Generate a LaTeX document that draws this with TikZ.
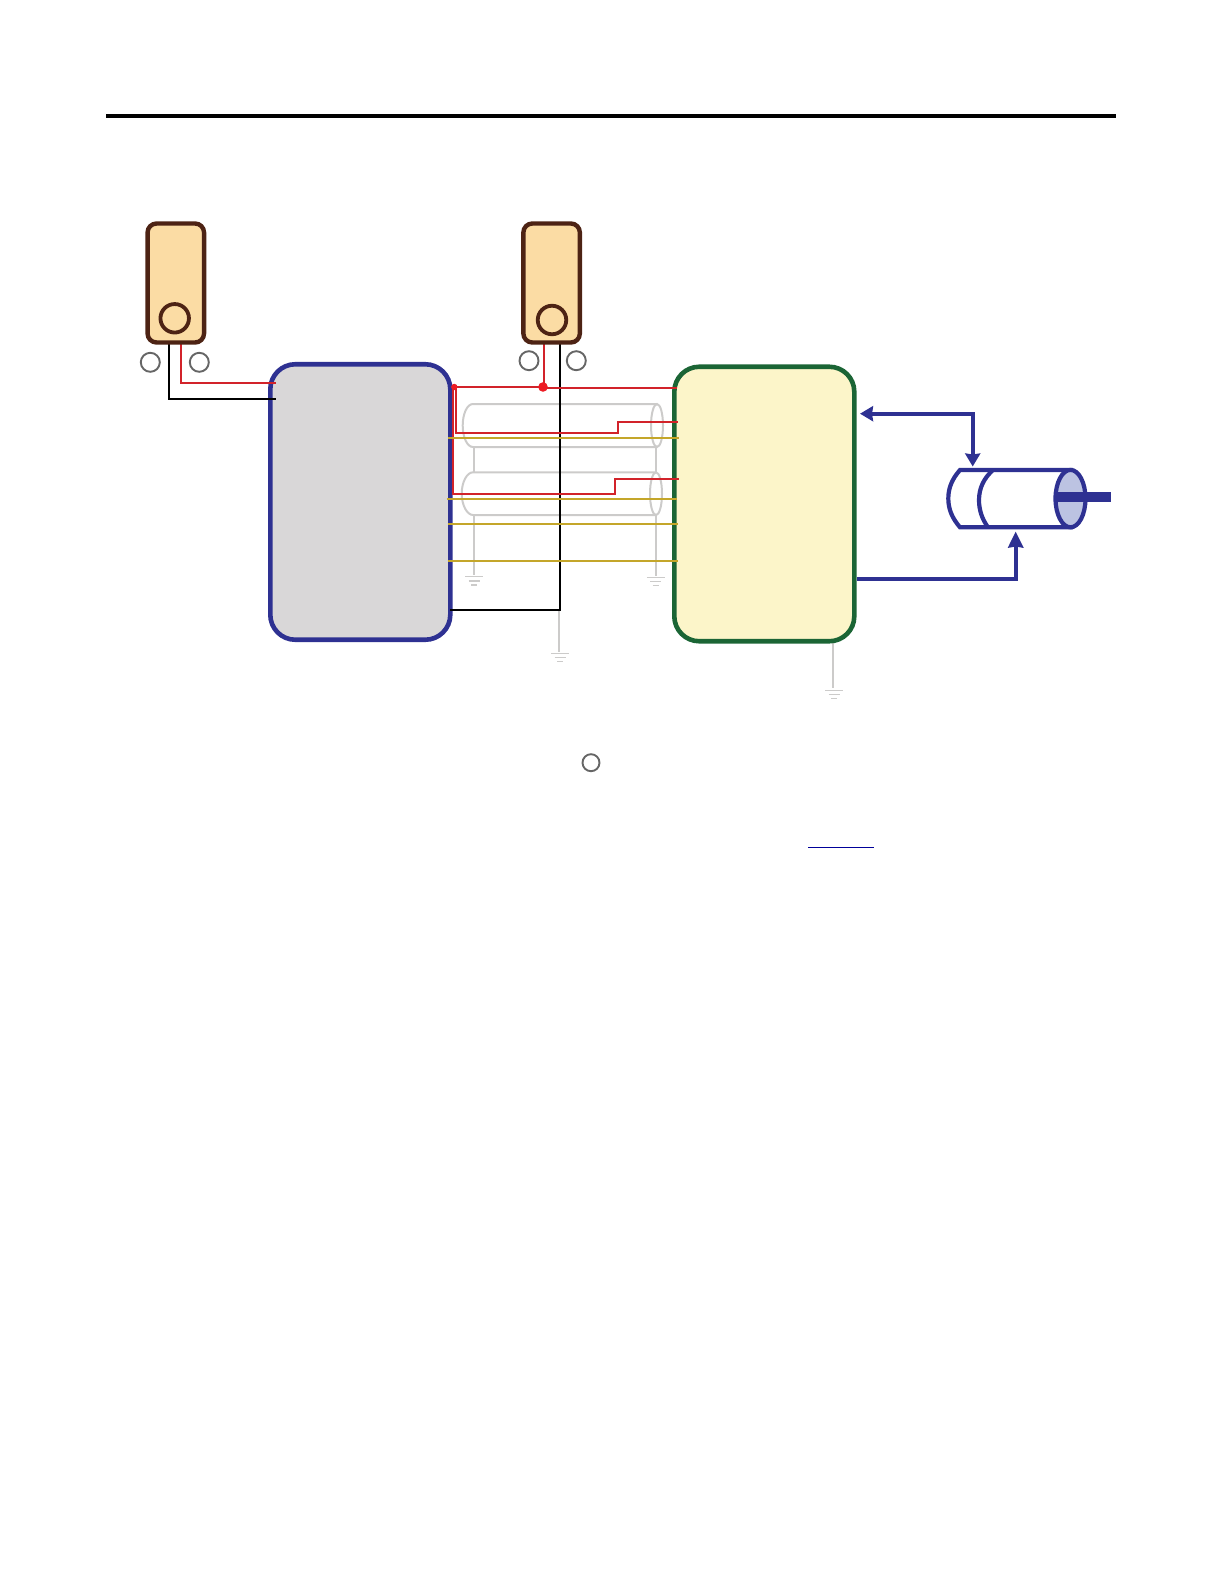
\documentclass[tikz,border=0pt]{standalone}
\usepackage{tkz-euclide}
\usetikzlibrary{arrows.meta}
\definecolor{sensorbrown}{HTML}{4D2314}
\definecolor{sensorfill}{HTML}{FBDCA4}
\definecolor{driveblue}{HTML}{2E3192}
\definecolor{drivefill}{HTML}{D9D7D8}
\definecolor{ctrlgreen}{HTML}{1B6535}
\definecolor{ctrlfill}{HTML}{FCF5C9}
\definecolor{wirered}{HTML}{D2232A}
\definecolor{dotred}{HTML}{ED1C24}
\definecolor{wireyellow}{HTML}{C4A62A}
\definecolor{shieldgrey}{HTML}{CCCBCA}
\definecolor{rodfill}{HTML}{BCC3E2}
\tikzset{>={Stealth[length=13pt,width=15pt,inset=1pt]}}
\tikzset{
  sensorbox/.style={draw=sensorbrown,fill=sensorfill,line width=4.4pt,rounded corners=9pt,
    minimum width=56.5pt,minimum height=119pt,inner sep=0pt,outer sep=0pt},
  sensoreye/.style={circle,draw=sensorbrown,fill=sensorfill,line width=3.8pt,minimum size=28.5pt,inner sep=0pt},
  termmark/.style={circle,draw=black!60,line width=1.9pt,minimum size=19pt,inner sep=0pt},
  panelbox/.style={line width=4.6pt,rounded corners=25pt,inner sep=0pt,outer sep=0pt},
  redwire/.style={draw=wirered,line width=2.2pt},
  blackwire/.style={draw=black,line width=2.2pt},
  yellowwire/.style={draw=wireyellow,line width=2.2pt},
  shield/.style={draw=shieldgrey,line width=2pt},
  bluearrow/.style={draw=driveblue,line width=4.2pt},
  gnd/.pic={
    \draw[shieldgrey,line width=1.4pt] (-8.8,0) -- (8.8,0) (-5.5,4.2) -- (5.5,4.2) (-3,8.2) -- (3,8.2);
  }
}

\begin{document}
\begin{tikzpicture}[x=1pt,y=-1pt]
\useasboundingbox (0,0) rectangle (1224,1584);
\tkzDefPoints{106/116.5/T, 1116/116.5/U, 808/847.3/V, 874/847.3/W}
% black and red wires, left sensor
\tkzDefPoints{168.7/342/A, 168.7/399/B, 276/399/C, 181/342/D, 181/383.3/E, 276/383.3/F}
% right sensor
\tkzDefPoints{544/342/G, 543/387/H, 559.7/342/I, 559.7/610/J, 450/610/K}
% red runs
\tkzDefPoints{454.3/387/L, 676.7/388/M, 456/387/N, 456/432.7/O, 618/432.7/P, 618/422/Q, 678/422/R}
\tkzDefPoints{453.3/387/S, 453.3/494.3/X, 615/494.3/Y, 615/479/Z, 678.5/479/Aa}
% yellow runs
\tkzDefPoints{448/438/Ya, 679/438/Yb, 446.5/499/Yc, 677/499/Yd, 447.5/524/Ye, 678/524/Yf, 447.5/561/Yg, 678/561/Yh}
% grounds
\tkzDefPoints{473.5/447/Ga, 473.5/472.3/Gb, 656.3/447/Gc, 656.3/472.3/Gd, 473.5/515/Ge, 473.5/575/Gf, 655.5/515/Gg, 655.5/576/Gh}
\tkzDefPoints{559/610/Gi, 559/652/Gj, 833/642/Gk, 833/688/Gl}
% blue arrows
\tkzDefPoints{972.7/413.7/Ba, 972.7/466.5/Bb, 860/413.7/Bc, 857.3/579/Bd, 1015.7/579/Be, 1015.7/531.5/Bf}

\draw[line width=4pt] (T) -- (U);
\draw[draw=blue!60!black,line width=1.2pt] (V) -- (W);

% shields
\draw[shield] (Ga) -- (Gb) (Gc) -- (Gd) (Ge) -- (Gf) (Gg) -- (Gh) (Gi) -- (Gj) (Gk) -- (Gl);
\draw[shield] (657,404) -- (473,404) .. controls (467,404) and (462.7,414) .. (462.7,425.5)
  .. controls (462.7,437) and (467,447) .. (473,447) -- (657,447);
\draw[shield] (657,425.5) ellipse (6pt and 21.5pt);
\draw[shield] (656,472.3) -- (473,472.3) .. controls (467,472.3) and (461.7,482) .. (461.7,493.7)
  .. controls (461.7,505) and (467,515) .. (473,515) -- (656,515);
\draw[shield] (656,493.7) ellipse (6pt and 21.4pt);
\pic at (474,576.7) {gnd};
\pic at (655.7,577.3) {gnd};
\pic at (560,653.3) {gnd};
\pic at (834,690.3) {gnd};

% panels
\node[panelbox,draw=driveblue,fill=drivefill,minimum width=180pt,minimum height=275.5pt] (drive) at (360.3,502) {};
\node[panelbox,draw=ctrlgreen,fill=ctrlfill,minimum width=180pt,minimum height=274.5pt] (ctrl) at (764.3,504) {};

% wires
\draw[blackwire] (A) -- (B) -- (C);
\draw[blackwire] (I) -- (J) -- (K);
\draw[redwire] (D) -- (E) -- (F);
\draw[redwire] (G) -- (G |- H);
\draw[redwire] (L) -- (H) -- (H |- M) -- (M);
\draw[redwire] (N) -- (O) -- (P) -- (Q) -- (R);
\draw[redwire] (S) -- (X) -- (Y) -- (Z) -- (Aa);
\draw[yellowwire] (Ya) -- (Yb);
\draw[yellowwire] (Yc) -- (Yd);
\draw[yellowwire] (Ye) -- (Yf);
\draw[yellowwire] (Yg) -- (Yh);
\fill[dotred] (L) circle (3.2pt);
\fill[dotred] (H) circle (4.8pt);

% sensors
\node[sensorbox] (sensorA) at (175.8,283) {};
\node[sensoreye] (eyeA) at (174.7,318.3) {};
\node[sensorbox] (sensorB) at (551.6,283) {};
\node[sensoreye] (eyeB) at (552,320) {};
\node[termmark] (m1) at (150.3,362.3) {};
\node[termmark] (m2) at (199.3,362.3) {};
\node[termmark] (m3) at (529,360.7) {};
\node[termmark] (m4) at (576.3,360.7) {};
\node[termmark,minimum size=17pt] (m5) at (591,762.7) {};

% actuator
\draw[bluearrow,fill=white] (960,470) -- (1071,470) -- (1071,527.3) -- (960,527.3)
  .. controls (952,518) and (948.3,509) .. (948.3,498.5) .. controls (948.3,488) and (952,479) .. (960,470) -- cycle;
\draw[bluearrow] (993,470) .. controls (984,478) and (979,488) .. (979,500) .. controls (979,510) and (982,519) .. (988,527.3);
\draw[bluearrow,fill=rodfill] (1070.5,498.6) ellipse (15pt and 28.7pt);
\fill[driveblue] (1054,492) rectangle (1111,502);
\draw[bluearrow,<->] (Bc) -- (Ba) -- (Bb);
\draw[bluearrow,-{Stealth[length=16pt,width=15pt,inset=1pt]}] (Bd) -- (Be) -- (Bf);
\end{tikzpicture}
\end{document}
